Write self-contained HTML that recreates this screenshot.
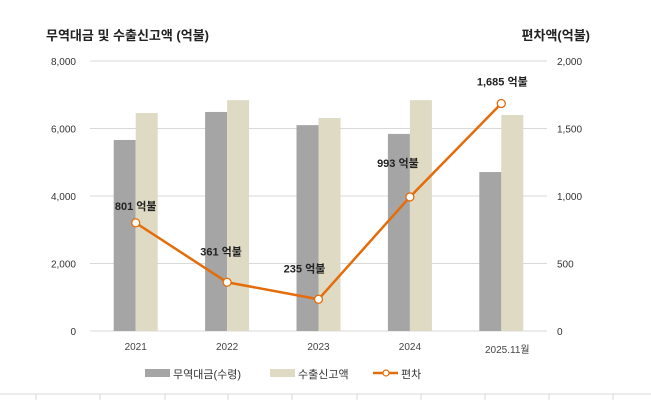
<!DOCTYPE html>
<html><head><meta charset="utf-8"><style>
body{margin:0;background:#fff;}
svg text{font-family:"Liberation Sans","Noto Sans CJK KR",sans-serif;}
</style></head><body>
<svg width="651" height="400" xmlns="http://www.w3.org/2000/svg" id="chart">
<text x="46" y="40" font-size="13" font-weight="bold" fill="#222">무역대금 및 수출신고액 (억불)</text>
<text x="590" y="40" font-size="13" font-weight="bold" fill="#222" text-anchor="end">편차액(억불)</text>
<g id="grid"></g><g id="bars"></g><g id="line"></g><g id="labels"></g>
<g>
<rect x="145" y="369" width="25" height="8" fill="#a5a5a5"/>
<text x="173" y="378" font-size="11" fill="#333">무역대금(수령)</text>
<rect x="270" y="369" width="25" height="8" fill="#dedac4"/>
<text x="298" y="378" font-size="11" fill="#333">수출신고액</text>
<line x1="373" y1="373" x2="398" y2="373" stroke="#e46c0a" stroke-width="2.5"/>
<circle cx="386" cy="373" r="3" fill="#fff" stroke="#e46c0a" stroke-width="1.2"/>
<text x="401" y="378" font-size="11" fill="#333">편차</text>
</g>
<line x1="0" y1="394" x2="651" y2="394" stroke="#d9d9d9"/>
<g id="cells"></g>
</svg>
<script>
const categories=["2021","2022","2023","2024","2025.11월"];
const tradeValues=[5660,6490,6100,5840,4710];
const exportValues=[6460,6840,6310,6840,6400];
const diffValues=[801,361,235,993,1685];
const leftTicks=[0,2000,4000,6000,8000];
const rightTicks=[0,500,1000,1500,2000];
const NS="http://www.w3.org/2000/svg";
const X0=90,X1=547,Y0=331,Y1=61;
const band=(X1-X0)/categories.length;
const yL=v=>Y0-(v/8000)*(Y0-Y1);
const yR=v=>Y0-(v/2000)*(Y0-Y1);
const xC=i=>X0+band*(i+0.5);
const lblDx=[0,-6,-14,-12,1];
const lblDy=[-13,-27,-27,-30,-18];
function mk(tag,attrs,parent,text){const e=document.createElementNS(NS,tag);for(const k in attrs)e.setAttribute(k,attrs[k]);if(text!==undefined)e.textContent=text;document.getElementById(parent).appendChild(e);return e;}
leftTicks.forEach((t,i)=>{
 const g=mk("line",{x1:X0,x2:X1,y1:yL(t),y2:yL(t),stroke:"#d9d9d9","stroke-width":1},"grid");
 
 
 const l=mk("text",{x:76,y:yL(t)+4,"font-size":10,fill:"#333","text-anchor":"end"},"grid",t.toLocaleString("en-US"));
 
 
});
rightTicks.forEach(t=>{
 const l=mk("text",{x:557,y:yR(t)+4,"font-size":10,fill:"#333"},"grid",t.toLocaleString("en-US"));
 
 
});
const bw=22;
categories.forEach((c,i)=>{
 const a=mk("rect",{x:xC(i)-bw,y:yL(tradeValues[i]),width:bw,height:Y0-yL(tradeValues[i]),fill:"#a5a5a5"},"bars");
 
 
 const b=mk("rect",{x:xC(i),y:yL(exportValues[i]),width:bw,height:Y0-yL(exportValues[i]),fill:"#dedac4"},"bars");
 
 
 const t=mk("text",{x:xC(i)+(i==4?6:0),y:i==4?353:350,"font-size":10,fill:"#444","text-anchor":"middle"},"labels",c);
 
 
});
const pts=diffValues.map((v,i)=>xC(i)+","+yR(v)).join(" ");
const pl=mk("polyline",{points:pts,fill:"none",stroke:"#e46c0a","stroke-width":2.5},"line");


diffValues.forEach((v,i)=>{
 const c=mk("circle",{cx:xC(i),cy:yR(v),r:4,fill:"#fff",stroke:"#e46c0a","stroke-width":1.3},"line");
 
 
 const t=mk("text",{x:xC(i)+lblDx[i],y:yR(v)+lblDy[i],"font-size":11,"font-weight":"bold",fill:"#222","text-anchor":"middle"},"labels",v.toLocaleString("en-US")+" 억불");
 
 
});
[36,100,165,228,292,357,421,485,549,613].forEach(x=>{
 const l=mk("line",{x1:x,x2:x,y1:394,y2:400,stroke:"#d9d9d9"},"cells");
 
 
});
</script>
</body></html>
